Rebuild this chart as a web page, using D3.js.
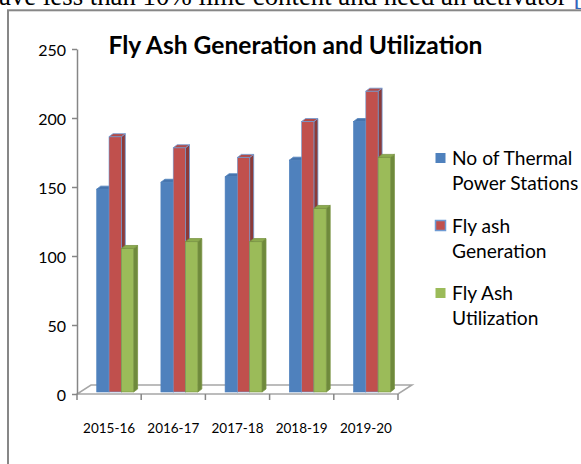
<!DOCTYPE html>
<html>
<head>
<meta charset="utf-8">
<script src="https://cdn.jsdelivr.net/npm/d3@7"></script>
<style>
  body { margin: 0; background: #fff; overflow: hidden; }
  svg { display: block; }
</style>
</head>
<body>
<div id="chart"></div>
<script>
// --- DATOS ---
const years = ["2015-16", "2016-17", "2017-18", "2018-19", "2019-20"];
const seriesNames = ["No of Thermal Power Stations", "Fly ash Generation", "Fly Ash Utilization"];
const stations = [147, 152, 156, 168, 196];
const generation = [185, 177, 170, 196, 218];
const utilization = [104, 109, 109, 133, 170];
const yTicks = [0, 50, 100, 150, 200, 250];
const legendLines = [["No of Thermal", "Power Stations"], ["Fly ash", "Generation"], ["Fly Ash", "Utilization"]];

// colores: frente, lado, arriba, borde
const palette = [
  { front: "#4F81BD", side: "#3A6597", top: "#4674AD", stroke: "#4F81BD" },
  { front: "#C0504D", side: "#8C3A38", top: "#B24A47", stroke: "#6E9AD3" },
  { front: "#9BBB59", side: "#6F8A3C", top: "#8CAB4E", stroke: "#7A9444" }
];

const W = 581, H = 464;
const depth = { dx: 4, dy: -3 };

const svg = d3.select("#chart").append("svg")
  .attr("width", W).attr("height", H);

// texto del documento cortado arriba
const doc = svg.append("text")
  .attr("x", -1).attr("y", 4.5)
  .style("font-family", "'Liberation Serif', serif")
  .style("font-size", "26.8px")
  .attr("fill", "#000");
doc.append("tspan").text("ave less than 10% lime content and need an activator ");
doc.append("tspan").attr("fill", "#3366BB").text("[12]");

// marco
svg.append("rect")
  .attr("x", 8).attr("y", 10.3)
  .attr("width", 700).attr("height", 600)
  .attr("fill", "#fff")
  .attr("stroke", "#878787").attr("stroke-width", 2);

// --- ESCALAS ---
const x = d3.scaleBand().domain(years).range([77, 398]);
const xInner = d3.scaleBand().domain(d3.range(3)).range([19.7, 56.6]);
const y = d3.scaleLinear().domain([0, 250]).range([394, 49]);
const baseShift = -2;

// titulo
svg.append("text")
  .attr("x", 295.5).attr("y", 54)
  .attr("text-anchor", "middle")
  .style("font-family", "Lato, sans-serif")
  .style("font-weight", "bold")
  .style("font-size", "24.6px")
  .text("Fly Ash Generation and Utilization");

// suelo 3D
const [x0, x1] = x.range();
svg.append("path")
  .attr("d", `M${x0},${y(0)} L${x1},${y(0)} L${x1 + 14},${y(0) - 9} L${x0 + 14},${y(0) - 9} Z`)
  .attr("fill", "none")
  .attr("stroke", "#A6A6A6").attr("stroke-width", 1.5);

// eje Y
const yAxis = svg.append("g")
  .attr("transform", `translate(${x0},0)`)
  .call(d3.axisLeft(y).tickValues(yTicks).tickSize(5).tickSizeOuter(0).tickPadding(6));
yAxis.select(".domain").attr("stroke", "#868686").attr("stroke-width", 1.5);
yAxis.selectAll(".tick line").attr("stroke", "#868686").attr("stroke-width", 1.5);
yAxis.selectAll(".tick text")
  .attr("dy", "0.4em")
  .style("font-family", "Lato, sans-serif")
  .style("font-size", "16px")
  .attr("fill", "#000");

// marcas del eje X en los limites de categoria
const boundaries = years.map(d => x(d)).concat([x1]);
svg.append("g").selectAll("line")
  .data(boundaries).enter().append("line")
  .attr("x1", d => d).attr("x2", d => d)
  .attr("y1", y(0)).attr("y2", y(0) + 6)
  .attr("stroke", "#868686").attr("stroke-width", 1.5);

// etiquetas X
const xAxis = svg.append("g")
  .attr("transform", `translate(0,${y(0)})`)
  .call(d3.axisBottom(x).tickSize(0).tickPadding(29));
xAxis.select(".domain").remove();
xAxis.selectAll(".tick text")
  .style("font-family", "Lato, sans-serif")
  .style("font-size", "13.5px")
  .attr("fill", "#000");

// --- BARRAS 3D ---
const seriesValues = [stations, generation, utilization];
const bars = [];
years.forEach((yr, i) => {
  seriesValues.forEach((vals, s) => bars.push({ year: yr, s, value: vals[i] }));
});

const bw = xInner.bandwidth();
const barG = svg.append("g");
const bar = barG.selectAll("g.bar").data(bars).enter().append("g").attr("class", "bar");

bar.each(function(d) {
  const g = d3.select(this);
  const c = palette[d.s];
  const bx = x(d.year) + xInner(d.s);
  const top = y(d.value) + baseShift;
  const base = y(0) + baseShift;
  const { dx, dy } = depth;
  // lado
  g.append("path")
    .attr("d", `M${bx + bw},${top} L${bx + bw + dx},${top + dy} L${bx + bw + dx},${base + dy} L${bx + bw},${base} Z`)
    .attr("fill", c.side).attr("stroke", c.stroke).attr("stroke-width", 0.8);
  // frente
  g.append("rect")
    .attr("x", bx).attr("y", top)
    .attr("width", bw).attr("height", base - top)
    .attr("fill", c.front).attr("stroke", c.stroke).attr("stroke-width", 0.6);
  // arriba
  g.append("path")
    .attr("d", `M${bx},${top} L${bx + dx},${top + dy} L${bx + bw + dx},${top + dy} L${bx + bw},${top} Z`)
    .attr("fill", c.top).attr("stroke", c.stroke).attr("stroke-width", 0.8);
});

// --- LEYENDA ---
const legend = svg.append("g").attr("transform", "translate(435,0)");
const legendY = d3.scalePoint().domain(d3.range(3)).range([158, 293]);
const items = legend.selectAll("g").data(seriesNames).enter().append("g")
  .attr("transform", (d, i) => `translate(0,${legendY(i)})`);
items.append("rect")
  .attr("x", 0.5).attr("y", -5)
  .attr("width", 10).attr("height", 10)
  .attr("fill", (d, i) => palette[i].front)
  .attr("stroke", (d, i) => i === 1 ? palette[1].stroke : "none")
  .attr("stroke-width", 1.5);
items.append("text")
  .attr("x", 17).attr("y", 7)
  .style("font-family", "Lato, sans-serif")
  .style("font-size", "19.2px")
  .attr("fill", "#000")
  .selectAll("tspan").data((d, i) => legendLines[i]).enter().append("tspan")
  .attr("x", 17).attr("dy", (d, j) => j === 0 ? 0 : 25)
  .text(d => d);
</script>
</body>
</html>
